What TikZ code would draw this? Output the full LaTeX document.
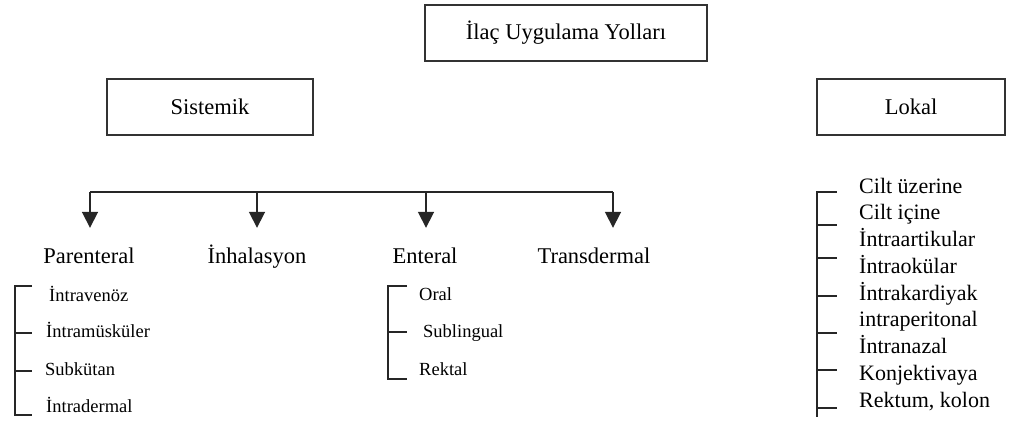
\documentclass[tikz,border=0pt]{standalone}
\usepackage{fontspec}
\setmainfont{Liberation Serif}
\usetikzlibrary{positioning,arrows.meta}
\newcommand{\routefont}{\fontsize{22.5}{26}\selectfont}
\newcommand{\lokalfont}{\fontsize{22}{26}\selectfont}
\newcommand{\subfont}{\fontsize{18.5}{22}\selectfont}
\tikzset{
  routebox/.style={draw=black!80, line width=1.6pt, minimum height=56pt, font=\routefont},
  routelabel/.style={anchor=base, inner sep=0pt, text height=16pt, text depth=5pt, font=\routefont},
  subitem/.style={anchor=west, inner sep=0pt, text height=13pt, text depth=4pt, font=\subfont},
  lokalitem/.style={anchor=west, inner sep=0pt, text height=15pt, text depth=5pt, font=\lokalfont},
  barline/.style={line width=1.8pt, black!85},
  downarrow/.style={barline, -{Triangle[width=16pt,length=16pt]}, shorten >=19pt},
}

\begin{document}
\begin{tikzpicture}[x=1pt, y=-1pt]
  \useasboundingbox (0,0) rectangle (1020,421);

  % boxes
  \node [routebox, minimum width=282pt] (root) at (566,33) {İlaç Uygulama Yolları};
  \node [routebox, minimum width=206pt] (sistemik) at (210,107) {Sistemik};
  \node [routebox, minimum width=188pt] (lokal) at (911,107) {Lokal};

  % systemic routes
  \node [routelabel] (parenteral) at (89,263) {Parenteral};
  \node [routelabel] (inhalasyon) at (257,263) {İnhalasyon};
  \node [routelabel] (enteral) at (425,263) {Enteral};
  \node [routelabel] (transdermal) at (594,263) {Transdermal};

  \coordinate (barA) at (90,192);
  \coordinate (barB) at (257,192);
  \coordinate (barC) at (426,192);
  \coordinate (barD) at (613,192);

  \draw [barline] (barA) -- (barD);
  \draw [downarrow] (barA) -- (barA |- parenteral.north);
  \draw [downarrow] (barB) -- (barB |- inhalasyon.north);
  \draw [downarrow] (barC) -- (barC |- enteral.north);
  \draw [downarrow] (barD) -- (barD |- transdermal.north);

  % parenteral
  \node [subitem] (intravenoz) at (49,297) {İntravenöz};
  \node [subitem] (intramuskuler) at (46,333) {İntramüsküler};
  \node [subitem] (subkutan) at (45,371) {Subkütan};
  \node [subitem] (intradermal) at (46,408) {İntradermal};
  \draw [barline] (32,286) -- (15,286) -- (15,415) -- (32,415);
  \draw [barline] (15,333) -- (32,333);
  \draw [barline] (15,371) -- (32,371);

  % enteral
  \node [subitem] (oral) at (419,296) {Oral};
  \node [subitem] (sublingual) at (423,333) {Sublingual};
  \node [subitem] (rektal) at (419,371) {Rektal};
  \draw [barline] (407,286) -- (388,286) -- (388,379) -- (407,379);
  \draw [barline] (388,332) -- (407,332);

  % local routes
  \foreach \txt [count=\i] in {Cilt üzerine, Cilt içine, İntraartikular, İntraokülar,
      İntrakardiyak, intraperitonal, İntranazal, Konjektivaya, {Rektum, kolon}}
    \node [lokalitem] (lok\i) at (859, 161.25 + 26.75*\i) {\txt};
  \draw [barline] (817,191) -- (817,417);
  \foreach \y in {192,225,258,296,333,370,408}
    \draw [barline] (817,\y) -- (837,\y);
\end{tikzpicture}
\end{document}
